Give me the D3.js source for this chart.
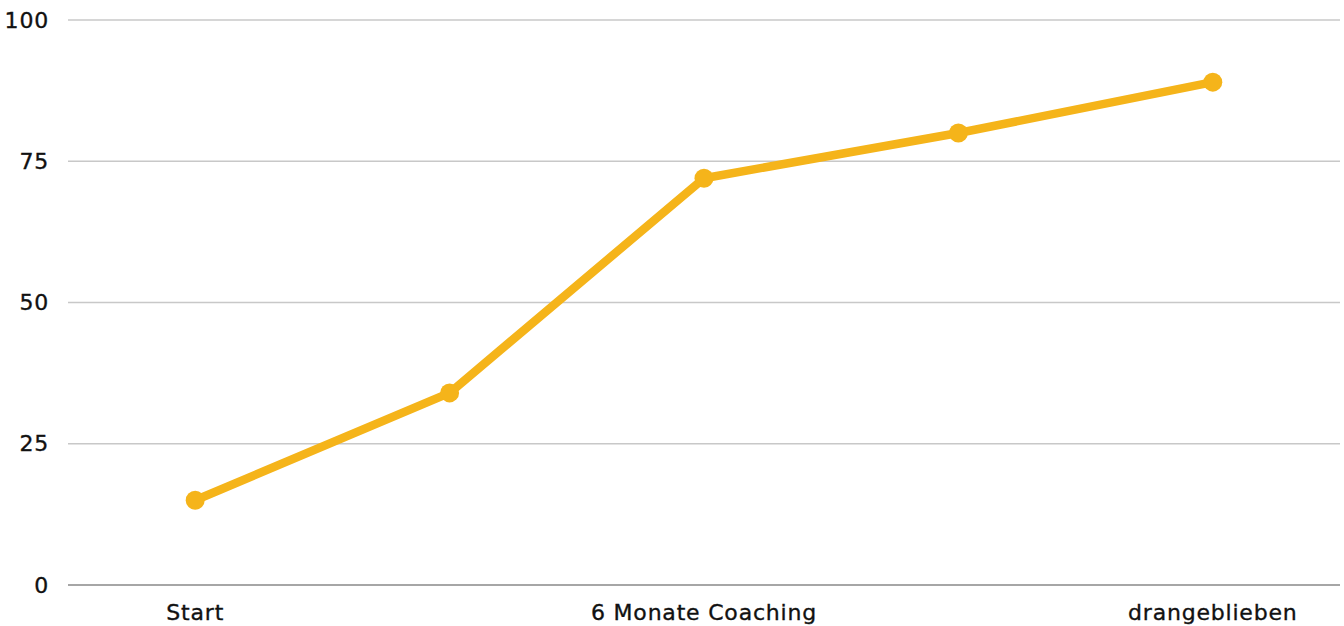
<!DOCTYPE html>
<html><head><meta charset="utf-8">
<script src="https://cdn.jsdelivr.net/npm/d3@7"></script>
<style>body{margin:0;background:#fff}svg{display:block}text{font-family:"DejaVu Sans",sans-serif;fill:#111;stroke:#111;stroke-width:0.35px}</style>
</head><body><svg id="c" width="1344" height="626"></svg>
<script>
const categories = ["Start", "", "6 Monate Coaching", "", "drangeblieben"];
const values = [15, 34, 72, 80, 89];
const yTicks = [0, 25, 50, 75, 100];

const svg = d3.select("#c");
const x = d3.scaleBand().domain(d3.range(categories.length)).range([68, 1340]);
const y = d3.scaleLinear().domain([0, 100]).range([585, 20]);

svg.append("g").selectAll("line").data(yTicks).join("line")
  .attr("x1", 68).attr("x2", 1340)
  .attr("y1", d => y(d)).attr("y2", d => y(d))
  .attr("stroke", d => d === 0 ? "#888" : "#c8c8c8").attr("stroke-width", 1.5);

svg.append("g").selectAll("text").data(yTicks).join("text")
  .attr("x", 49).attr("y", d => y(d)).attr("dy", "0.35em")
  .attr("text-anchor", "end").attr("font-size", 22).attr("letter-spacing", 0.8).text(d => d);

svg.append("g").selectAll("text").data(categories).join("text")
  .attr("x", (d, i) => x(i) + x.bandwidth() / 2).attr("y", 612).attr("dy", "0.35em")
  .attr("text-anchor", "middle").attr("font-size", 22).attr("letter-spacing", 0.8).text(d => d);

const line = d3.line().x((d, i) => x(i) + x.bandwidth() / 2).y(d => y(d));
svg.append("path").datum(values).attr("d", line).attr("fill", "none")
  .attr("stroke", "#F5B41A").attr("stroke-width", 8.5).attr("stroke-linejoin", "round");
svg.append("g").selectAll("circle").data(values).join("circle")
  .attr("cx", (d, i) => x(i) + x.bandwidth() / 2).attr("cy", d => y(d))
  .attr("r", 9.5).attr("fill", "#F5B41A");
</script></body></html>
